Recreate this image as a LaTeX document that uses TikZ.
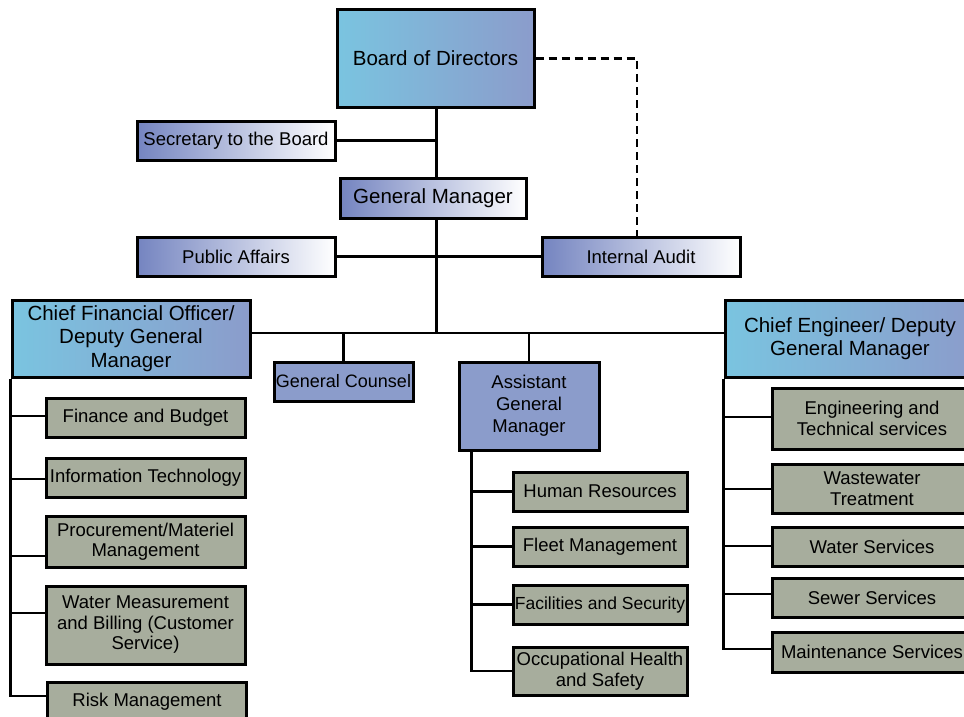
\documentclass[tikz,border=0pt]{standalone}
\usepackage{fontspec}
\setmainfont{Liberation Sans}
\usetikzlibrary{calc}
\definecolor{SkyClr}{RGB}{122,196,224}
\definecolor{LavClr}{RGB}{139,156,203}
\definecolor{StaffClr}{RGB}{116,132,192}
\definecolor{UnitClr}{RGB}{167,173,157}

\begin{document}
\begin{tikzpicture}[x=1pt,y=-1pt,
  box/.style={draw,line width=3pt,inner sep=0pt,align=center,font=\fontsize{18.5}{20.5}\selectfont},
  head/.style={box,left color=SkyClr,right color=LavClr,font=\fontsize{20.5}{23.5}\selectfont},
  staff/.style={box,left color=StaffClr,right color=white},
  dept/.style={box,fill=LavClr},
  unit/.style={box,fill=UnitClr},
  link/.style={line width=2.4pt}]
\useasboundingbox (0,0) rectangle (964,717);

% top of the chart
\node[head,minimum width=197pt,minimum height=97pt] (board) at (435.5,58.5) {Board of Directors};
\node[staff,minimum width=198pt,minimum height=39pt] (sec) at (236,140.5) {Secretary to the Board};
\node[staff,minimum width=186pt,minimum height=40pt,font=\fontsize{20.5}{23.5}\selectfont] (gm) at (433,198) {General Manager};
\node[staff,minimum width=198pt,minimum height=39pt] (pa) at (236,256.5) {Public Affairs};
\node[staff,minimum width=198pt,minimum height=39pt] (ia) at (641,256.5) {Internal Audit};

% second level
\node[head,minimum width=238pt,minimum height=77pt] (cfo) at (131,338.5) {Chief Financial Officer/\\Deputy General\\Manager};
\node[head,minimum width=250pt,minimum height=77pt] (ce) at (850,338.5) {Chief Engineer/ Deputy\\General Manager};
\node[dept,minimum width=139pt,minimum height=39pt,font=\fontsize{18}{20}\selectfont] (gc) at (343.5,381.5) {General Counsel};
\node[dept,minimum width=140pt,minimum height=88pt,font=\fontsize{18.5}{22}\selectfont] (agm) at (529,406) {Assistant\\General\\Manager};

% units under the CFO
\node[unit,minimum width=199pt,minimum height=39pt] (fin) at (145.5,417.5) {Finance and Budget};
\node[unit,minimum width=199pt,minimum height=39pt] (it) at (145.5,477.5) {Information Technology};
\node[unit,minimum width=199pt,minimum height=51pt] (proc) at (145.5,541.5) {Procurement/Materiel\\Management};
\node[unit,minimum width=199pt,minimum height=78pt] (wmb) at (145.5,625) {Water Measurement\\and Billing (Customer\\Service)};
\node[unit,minimum width=199pt,minimum height=40pt] (risk) at (147,702) {Risk Management};

% units under the assistant general manager
\node[unit,minimum width=174pt,minimum height=39pt] (hr) at (600,491.5) {Human Resources};
\node[unit,minimum width=174pt,minimum height=39pt] (fleet) at (600,546.5) {Fleet Management};
\node[unit,minimum width=174pt,minimum height=39pt,font=\fontsize{17.5}{20}\selectfont] (fac) at (600,604.5) {Facilities and Security};
\node[unit,minimum width=174pt,minimum height=48pt] (ohs) at (600,671) {Occupational Health\\and Safety};

% units under the chief engineer
\node[unit,minimum width=200pt,minimum height=61pt] (ets) at (872,418.5) {Engineering and\\Technical services};
\node[unit,minimum width=200pt,minimum height=49pt] (wwt) at (872,488.5) {Wastewater\\Treatment};
\node[unit,minimum width=200pt,minimum height=39pt] (ws) at (872,546.5) {Water Services};
\node[unit,minimum width=200pt,minimum height=39pt] (ss) at (872,597.5) {Sewer Services};
\node[unit,minimum width=200pt,minimum height=40pt] (ms) at (872,652) {Maintenance Services};

\coordinate (bus) at (436.5,333);
\coordinate (agmL) at ($(agm.south west)+(14,0)$);

\draw[link] (board.south -| bus) -- (gm.north -| bus);
\draw[link] (gm.south -| bus) -- (bus);
\draw[link] (sec.east) -- (sec.east -| bus);
\draw[link] (pa.east) -- (ia.west);
\draw[link,dash pattern=on 8pt off 5pt] (board.east) -| ($(ia.north)+(-4,0)$);
\draw[link] (cfo.east |- bus) -- (ce.west |- bus);
\draw[link] (gc.north) -- (gc.north |- bus);
\draw[link] (agm.north) -- (agm.north |- bus);

\draw[link] (cfo.south west) |- ($(risk.west)+(0,-6)$);
\foreach \n/\s in {fin/-1.5,it/1.5,proc/14.5,wmb/-12}
  \draw[link] ($(\n.west)+(0,\s)$) -- ($(cfo.south west |- \n.west)+(0,\s)$);

\draw[link] (agmL) |- (ohs.west);
\foreach \n in {hr,fleet,fac}
  \draw[link] (\n.west) -- (agmL |- \n.west);

\draw[link] (ce.south west) |- ($(ms.west)+(0,-3)$);
\foreach \n/\s in {ets/-1.5,wwt/0.5,ws/-0.5,ss/-3.5}
  \draw[link] ($(\n.west)+(0,\s)$) -- ($(ce.south west |- \n.west)+(0,\s)$);

\end{tikzpicture}
\end{document}
